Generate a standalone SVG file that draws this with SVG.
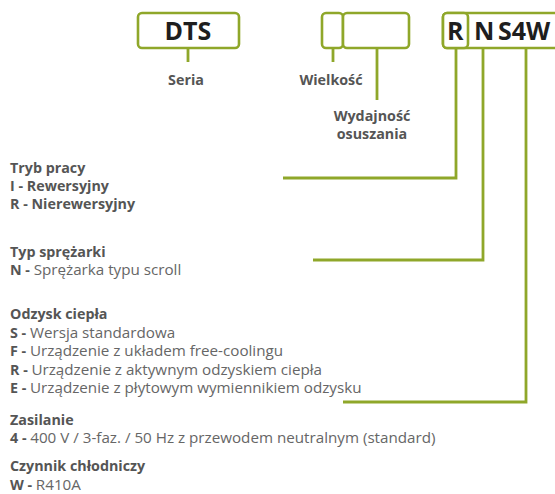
<svg xmlns="http://www.w3.org/2000/svg" width="555" height="494" viewBox="0 0 555 494">
<style>
.box{fill:#fff;stroke:#8fa72a;stroke-width:2.6}
.ln{fill:none;stroke:#8fa72a;stroke-width:2.8}
.code{font-family:"Open Sans","Noto Sans",sans-serif;font-weight:700;font-size:25px;fill:#1e1e1e}
.lab{font-family:"Open Sans","Noto Sans",sans-serif;font-weight:700;font-size:14.3px;fill:#555}
.txt{font-family:"Open Sans","Noto Sans",sans-serif;font-size:15.2px;fill:#666}
.b{font-weight:700;fill:#555;font-size:14.3px}
</style>
<rect width="555" height="494" fill="#fff"/>
<g id="connectors">
<path class="ln" d="M188 48V62"/>
<path class="ln" d="M333 48V62"/>
<path class="ln" d="M377 48V100"/>
<path class="ln" d="M456 48V178H283"/>
<path class="ln" d="M483 48V260H313"/>
<path class="ln" d="M526 48V402H343"/>
</g>
<g id="seria">
<rect class="box" x="138" y="13" width="101" height="35" rx="4"/>
<text class="code" x="188" y="40" text-anchor="middle">DTS</text>
<text class="lab" x="186" y="85" text-anchor="middle">Seria</text>
</g>
<g id="wielkosc">
<rect class="box" x="322" y="13" width="21" height="35" rx="4"/>
<text class="lab" x="331" y="85" text-anchor="middle">Wielkość</text>
</g>
<g id="wydajnosc">
<rect class="box" x="343" y="13" width="66" height="35" rx="4"/>
<text class="lab" x="372" y="121" text-anchor="middle">Wydajność</text>
<text class="lab" x="372" y="139" text-anchor="middle">osuszania</text>
</g>
<g id="kod">
<rect class="box" x="443" y="13" width="130" height="35" rx="4"/>
<rect class="box" x="443" y="13" width="25" height="35" rx="4"/>
<text class="code" x="447" y="40">R</text>
<text class="code" x="474" y="40">N</text>
<text class="code" x="498" y="40">S4W</text>
</g>
<g id="tryb">
<text class="lab" x="10" y="173">Tryb pracy</text>
<text class="lab" x="10" y="191">I - Rewersyjny</text>
<text class="lab" x="10" y="209">R - Nierewersyjny</text>
</g>
<g id="sprezarka">
<text class="lab" x="10" y="257">Typ sprężarki</text>
<text class="txt" x="10" y="275"><tspan class="b">N - </tspan>Sprężarka typu scroll</text>
</g>
<g id="odzysk">
<text class="lab" x="10" y="319">Odzysk ciepła</text>
<text class="txt" x="10" y="337.5"><tspan class="b">S - </tspan>Wersja standardowa</text>
<text class="txt" x="10" y="356"><tspan class="b">F - </tspan>Urządzenie z układem free-coolingu</text>
<text class="txt" x="10" y="374.5"><tspan class="b">R - </tspan>Urządzenie z aktywnym odzyskiem ciepła</text>
<text class="txt" x="10" y="393"><tspan class="b">E - </tspan>Urządzenie z płytowym wymiennikiem odzysku</text>
</g>
<g id="zasilanie">
<text class="lab" x="10" y="425">Zasilanie</text>
<text class="txt" x="10" y="443"><tspan class="b">4 - </tspan>400 V / 3-faz. / 50 Hz z przewodem neutralnym (standard)</text>
</g>
<g id="czynnik">
<text class="lab" x="10" y="471">Czynnik chłodniczy</text>
<text class="txt" x="10" y="490"><tspan class="b">W - </tspan>R410A</text>
</g>
</svg>
